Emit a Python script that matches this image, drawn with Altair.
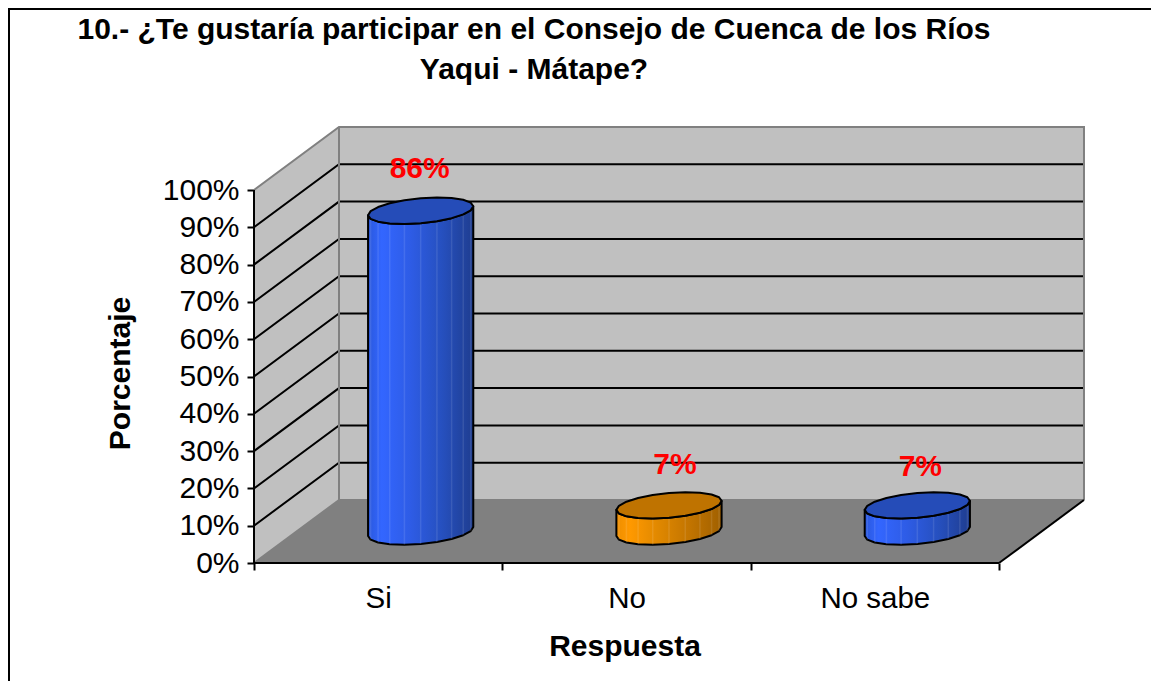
import math
import altair as alt
import pandas as pd

title_lines = ["10.- ¿Te gustaría participar en el Consejo de Cuenca de los Ríos", "Yaqui - Mátape?"]
categories = ["Si", "No", "No sabe"]
values = [86, 7, 7]
labels = ["86%", "7%", "7%"]
y_ticks = [0, 10, 20, 30, 40, 50, 60, 70, 80, 90, 100]

W, H = 1143, 673
X0, Y0 = 246, 555            # svg position of the front-left floor corner
PX_X, PX_Y = 248.33, 3.73    # pixels per category and per percent
DX, DY = 85 / PX_X, 63 / PX_Y  # depth of the box in data units
RX, DEP = 49.5 / PX_X, 0.21  # cylinder radii
LABEL_NUDGE_X, LABEL_NUDGE_Y = [-2, 5, 2], [0, 2, 4]  # pixels
FONT = "Liberation Sans"

xscale = alt.Scale(domain=[-X0 / PX_X, (W - X0) / PX_X], range=[0, W], nice=False, zero=False)
yscale = alt.Scale(domain=[-(H - Y0) / PX_Y, Y0 / PX_Y], range=[H, 0], nice=False, zero=False)

x_expr = "".join(f"datum.value=={i + 0.5}?'{c}':" for i, c in enumerate(categories)) + "''"
x_axis = alt.Axis(values=[0, 0.5, 1, 1.5, 2, 2.5, 3], labelExpr=x_expr, domain=False, grid=False,
                  offset=-(H - Y0), tickSize=7, tickWidth=2, tickColor="#000000",
                  tickOpacity=alt.condition("datum.value % 1 == 0", alt.value(1), alt.value(0)),
                  labelFont=FONT, labelFontSize=29.5, labelColor="#000000", labelPadding=14,
                  labelOverlap=False, labelFlush=False,
                  title="Respuesta", titleFont=FONT, titleFontSize=30, titleFontWeight="bold",
                  titleColor="#000000", titleX=616.5, titleY=83, titleBaseline="middle", titleAnchor="middle")
y_axis = alt.Axis(values=y_ticks, labelExpr="datum.value+'%'", domain=False, grid=False,
                  offset=-X0, tickSize=7, tickWidth=2, tickColor="#000000",
                  labelFont=FONT, labelFontSize=30, labelColor="#000000", labelPadding=8,
                  labelOverlap=False, labelFlush=False,
                  title="Porcentaje", titleFont=FONT, titleFontSize=30, titleFontWeight="bold",
                  titleColor="#000000", titleX=-134, titleY=365, titleBaseline="middle", titleAnchor="middle")


def X(f="x"):
    return alt.X(f, type="quantitative", scale=xscale, axis=x_axis)


def Y(f="y"):
    return alt.Y(f, type="quantitative", scale=yscale, axis=y_axis)


def area(rows, **mk):
    return alt.Chart(pd.DataFrame(rows)).mark_area(interpolate="linear", **mk).encode(
        x=X(), y=Y(), y2=alt.Y2("y2"))


def line(pts, color, width=2):
    rows = [dict(x=a, y=b, o=i) for i, (a, b) in enumerate(pts)]
    return alt.Chart(pd.DataFrame(rows)).mark_line(color=color, strokeWidth=width, interpolate="linear").encode(
        x=X(), y=Y(), order="o:Q")


layers = []

# walls and floor
layers.append(area([dict(x=0, y=100, y2=0), dict(x=DX, y=100 + DY, y2=DY)], color="#c0c0c0"))
layers.append(area([dict(x=DX, y=100 + DY, y2=DY), dict(x=3 + DX, y=100 + DY, y2=DY)], color="#c0c0c0"))
layers.append(area([dict(x=0, y=0, y2=0), dict(x=DX, y=DY, y2=0),
                    dict(x=3, y=DY, y2=0), dict(x=3 + DX, y=DY, y2=DY)], color="#808080"))

# gridlines on the side wall and the back wall
for t in y_ticks[1:-1]:
    layers.append(line([(0, t), (DX, t + DY), (3 + DX, t + DY)], "#000000"))

# wall edges
layers.append(line([(0, 100), (DX, 100 + DY), (3 + DX, 100 + DY), (3 + DX, DY)], "#808080", 2))
layers.append(line([(DX, 100 + DY), (DX, DY), (3 + DX, DY)], "#808080", 2))
layers.append(line([(0, 0), (DX, DY)], "#808080", 2))
layers.append(line([(3, 0), (3 + DX, DY)], "#000000", 2))

# axis lines
layers.append(alt.Chart(pd.DataFrame({"x": [0], "x2": [3], "y": [0]})).mark_rule(color="#000000", strokeWidth=2).encode(
    x=X(), x2=alt.X2("x2"), y=Y()))
layers.append(alt.Chart(pd.DataFrame({"x": [0], "y": [0], "y2": [100]})).mark_rule(color="#000000", strokeWidth=2).encode(
    x=X(), y=Y(), y2=alt.Y2("y2")))

# cylinders
BLUE = [("#2a58dc", 0), ("#3366ff", 0.13), ("#2e5ce6", 0.4), ("#2650bf", 0.7), ("#1f3d90", 1)]
ORANGE = [("#ee8e00", 0), ("#ff9900", 0.13), ("#e08800", 0.4), ("#c27400", 0.7), ("#a06000", 1)]
styles = [(BLUE, "#254cb8"), (ORANGE, "#bf7300"), (BLUE, "#254cb8")]
phi = math.atan2(DEP * DX, RX)
N = 10
for i, (v, (stops, top)) in enumerate(zip(values, styles)):
    cx, cy = i + 0.5 + DX / 2, DY / 2
    body, cap = [], []
    for k in range(N + 1):
        t = phi - math.pi + math.pi * k / N
        tb = 2 * phi - t
        x = cx + RX * math.cos(t) + DEP * DX * math.sin(t)
        front, back = DEP * DY * math.sin(t), DEP * DY * math.sin(tb)
        body.append(dict(x=x, y=cy + front, y2=cy + v + front))
        cap.append(dict(x=x, y=cy + v + front, y2=cy + v + back))
    grad = alt.LinearGradient(gradient="linear", x1=0, x2=1, y1=0, y2=0,
                              stops=[alt.GradientStop(color=c, offset=o) for c, o in stops])
    layers.append(area(body, color=grad, stroke="#000000", strokeWidth=2, strokeJoin="round"))
    layers.append(alt.Chart(pd.DataFrame(body[1:-1])).mark_rule(color="#ffffff", opacity=0.1, strokeWidth=1.5).encode(
        x=X(), y=Y(), y2=alt.Y2("y2")))
    layers.append(area(cap, color=top, stroke="#000000", strokeWidth=2, strokeJoin="round"))

# data labels
lab = pd.DataFrame({"x": [i + 0.5 + DX / 2 + LABEL_NUDGE_X[i] / PX_X for i in range(3)],
                    "y": [DY / 2 + v - LABEL_NUDGE_Y[i] / PX_Y for i, v in enumerate(values)], "t": labels})
layers.append(alt.Chart(lab).mark_text(font=FONT, fontSize=30, fontWeight="bold", color="#ff0000",
                                       dx=1, dy=-42).encode(x=X(), y=Y(), text="t:N"))

# chart frame (top and left edges)
layers.append(alt.Chart(pd.DataFrame({"a": [0]})).mark_rule(color="#000000", strokeWidth=2).encode(
    x=alt.value(1), y=alt.value(0), y2=alt.value(H)))
layers.append(alt.Chart(pd.DataFrame({"a": [0]})).mark_rule(color="#000000", strokeWidth=2).encode(
    y=alt.value(1), x=alt.value(0), x2=alt.value(W)))

chart = alt.layer(*layers).properties(
    width=W, height=H, padding=0, background="#ffffff",
    autosize=alt.AutoSizeParams(type="none"),
    title=alt.TitleParams(text=title_lines, font=FONT, fontSize=30, fontWeight="bold", color="#000000",
                          anchor="middle", baseline="top", lineHeight=40, offset=0, dx=526 - W / 2, dy=78),
).configure_view(stroke=None)

chart.save("out.html", embed_options={"renderer": "svg", "actions": False})
